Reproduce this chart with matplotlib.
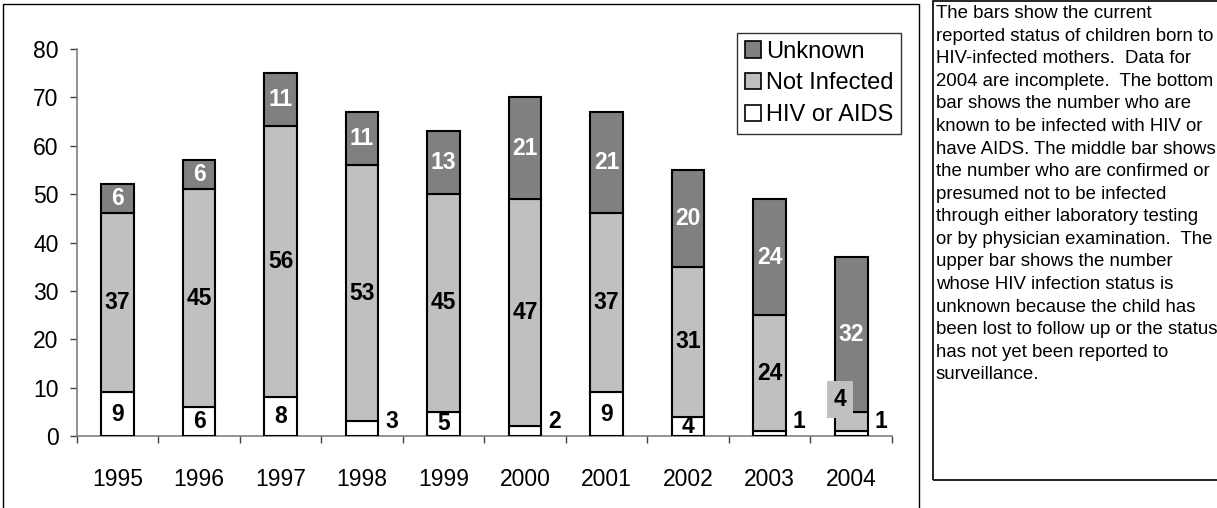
import matplotlib
matplotlib.use("Agg")
import matplotlib.pyplot as plt
from matplotlib.patches import Rectangle, Patch
import numpy as np

plt.rcParams['font.family'] = ['Liberation Sans', 'DejaVu Sans']

years = ['1995', '1996', '1997', '1998', '1999', '2000', '2001', '2002', '2003', '2004']
hiv = [9, 6, 8, 3, 5, 2, 9, 4, 1, 1]
not_infected = [37, 45, 56, 53, 45, 47, 37, 31, 24, 4]
unknown = [6, 6, 11, 11, 13, 21, 21, 20, 24, 32]

note = ("The bars show the current\n"
        "reported status of children born to\n"
        "HIV-infected mothers.  Data for\n"
        "2004 are incomplete.  The bottom\n"
        "bar shows the number who are\n"
        "known to be infected with HIV or\n"
        "have AIDS. The middle bar shows\n"
        "the number who are confirmed or\n"
        "presumed not to be infected\n"
        "through either laboratory testing\n"
        "or by physician examination.  The\n"
        "upper bar shows the number\n"
        "whose HIV infection status is\n"
        "unknown because the child has\n"
        "been lost to follow up or the status\n"
        "has not yet been reported to\n"
        "surveillance.")

W, H = 1217, 508
fig = plt.figure(figsize=(W / 100, H / 100), dpi=100)
ax = fig.add_axes([76.75 / W, 1 - 436 / H, 815.25 / W, 387 / H])

x = np.arange(len(years))
width = 0.4
hiv = np.array(hiv)
not_infected = np.array(not_infected)
unknown = np.array(unknown)

kw = dict(width=width, edgecolor='black', linewidth=1.5, zorder=3)
ax.bar(x, hiv, color='white', **kw)
ax.bar(x, not_infected, bottom=hiv, color='#c0c0c0', **kw)
ax.bar(x, unknown, bottom=hiv + not_infected, color='#808080', **kw)

lab = dict(fontsize=16.5, fontweight='bold', zorder=5)
for i in range(len(x)):
    # bottom segment
    if hiv[i] >= 4:
        ax.text(x[i], hiv[i] / 2, str(hiv[i]), ha='center', va='center', color='black', **lab)
    else:
        ax.annotate(str(hiv[i]), (x[i] + width / 2, 3), xytext=(5, 0), textcoords='offset points',
                    ha='left', va='center', color='black', **lab)
    # middle segment
    if not_infected[i] >= 8:
        ax.text(x[i], hiv[i] + not_infected[i] / 2, str(not_infected[i]), ha='center', va='center',
                color='black', **lab)
    else:
        ax.annotate(str(not_infected[i]), (x[i], hiv[i] + not_infected[i] + 2.5), xytext=(-8, 0),
                    textcoords='offset points', ha='center', va='center', color='black',
                    bbox=dict(boxstyle='square,pad=0.3', fc='#c0c0c0', ec='none'), **lab)
    # top segment
    ax.text(x[i], hiv[i] + not_infected[i] + unknown[i] / 2, str(unknown[i]), ha='center',
            va='center', color='white', **lab)

ax.set_xlim(-0.5, len(x) - 0.5)
ax.set_ylim(0, 80)
ax.set_yticks(range(0, 81, 10))
ax.set_xticks(x)
ax.set_xticklabels(years)
ax.set_xticks(np.arange(len(x) + 1) - 0.5, minor=True)
ax.tick_params(axis='x', which='major', length=0, pad=23, labelsize=16.5)
ax.tick_params(axis='x', which='minor', length=5, width=1, color='#404040', direction='out')
ax.tick_params(axis='y', length=5, width=1, color='#404040', pad=8, labelsize=16.5)
for s in ['top', 'right']:
    ax.spines[s].set_visible(False)
for s in ['left', 'bottom']:
    ax.spines[s].set_color('#808080')
    ax.spines[s].set_linewidth(1.2)

handles = [Patch(fc='#808080', ec='black', lw=1.2, label='Unknown'),
           Patch(fc='#c0c0c0', ec='black', lw=1.2, label='Not Infected'),
           Patch(fc='white', ec='black', lw=1.2, label='HIV or AIDS')]
leg = fig.legend(handles=handles, loc='upper right', bbox_to_anchor=(901 / W, 1 - 33 / H),
                 fontsize=17, frameon=True, fancybox=False, borderaxespad=0,
                 handlelength=0.7, handleheight=0.7, handletextpad=0.2,
                 labelspacing=0.42, borderpad=0.32)
leg.get_frame().set_edgecolor('black')
leg.get_frame().set_linewidth(1)

# outer frame of the chart area
fig.add_artist(Rectangle((3 / W, -0.1), 916 / W, 1.1 - 4 / H, transform=fig.transFigure,
                         fill=False, ec='black', lw=1))
# note box
fig.add_artist(Rectangle((933 / W, 1 - 480 / H), 300 / W, 479 / H, transform=fig.transFigure,
                         fill=False, ec='black', lw=1.2))
fig.text(936 / W, 1 - 5 / H, note, ha='left', va='top', fontsize=13.4, linespacing=1.43)

fig.savefig('out.png', dpi=100)
